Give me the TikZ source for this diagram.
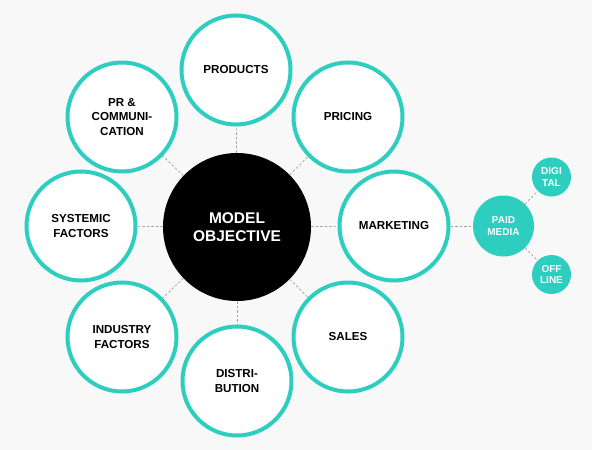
\documentclass[tikz,border=0pt]{standalone}
\usepackage{fontspec}
\setmainfont{Liberation Sans}
\definecolor{teal1}{RGB}{45,206,192}
\definecolor{bgc}{RGB}{248,248,248}
\definecolor{dashc}{RGB}{160,160,160}
\begin{document}
\begin{tikzpicture}[x=1pt,y=-1pt,
  outer/.style={circle,draw=teal1,line width=4pt,fill=white,minimum size=109pt,inner sep=0pt,align=center,font=\fontsize{11.6}{14.3}\selectfont\bfseries},
  core/.style={circle,fill=black,minimum size=148pt,inner sep=0pt,align=center,text=white,font=\fontsize{15.5}{18.3}\selectfont\bfseries},
  media/.style={circle,fill=teal1,minimum size=61pt,inner sep=0pt,align=center,text=white,font=\fontsize{10}{11.2}\selectfont\bfseries},
  small/.style={circle,fill=teal1,minimum size=39pt,inner sep=0pt,align=center,text=white,font=\fontsize{10}{11.2}\selectfont\bfseries},
  link/.style={draw=dashc,line width=0.7pt,dash pattern=on 2.5pt off 2pt}]
\fill[bgc] (0,0) rectangle (592,450);
\useasboundingbox (0,0) rectangle (592,450);
\node[core] (c) at (237,227) {MODEL\\OBJECTIVE};
\node[outer] (prod) at (236,70) {PRODUCTS};
\node[outer] (pric) at (348,117) {PRICING};
\node[outer] (mark) at (394,226) {MARKETING};
\node[outer] (sale) at (348,337) {SALES};
\node[outer] (dist) at (237,381) {DISTRI-\\BUTION};
\node[outer] (indu) at (122,337) {INDUSTRY\\FACTORS};
\node[outer] (syst) at (81,226) {SYSTEMIC\\FACTORS};
\node[outer] (prco) at (122,117) {PR \&\\COMMUNI-\\CATION};
\node[media] (paid) at (503.5,226) {PAID\\MEDIA};
\node[small] (digi) at (551.5,177) {DIGI\\TAL};
\node[small] (offl) at (551.5,274.5) {OFF\\LINE};
\foreach \n in {prod,pric,mark,sale,dist,indu,syst,prco}{
  \path[link] (c) -- (\n);
}
\path[link] (mark) -- (paid);
\path[link] (paid) -- (digi);
\path[link] (paid) -- (offl);
\end{tikzpicture}
\end{document}
